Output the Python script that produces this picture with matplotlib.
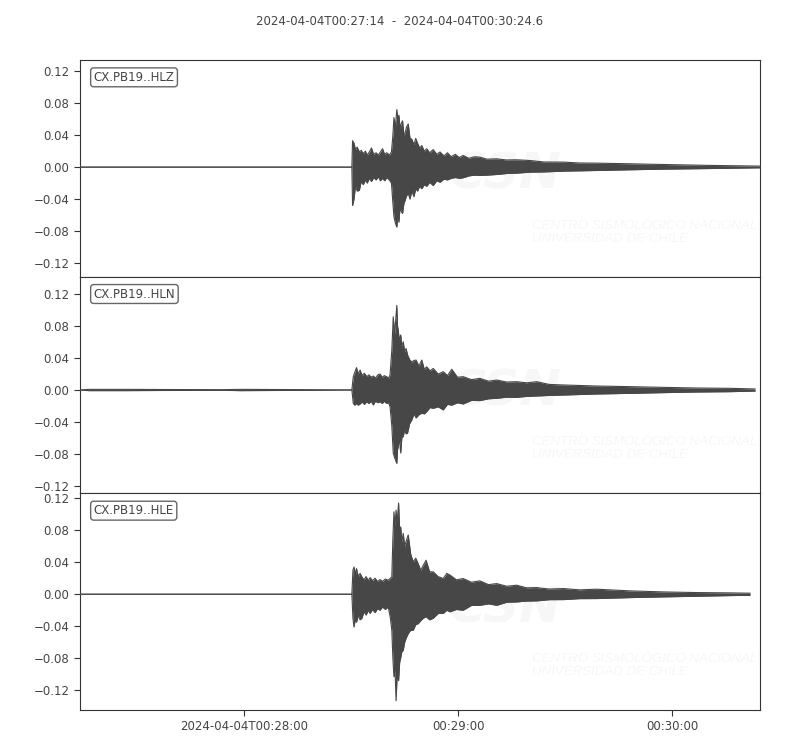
import datetime as dt

import matplotlib
matplotlib.use("Agg")
import matplotlib.pyplot as plt
import matplotlib.dates as mdates
from matplotlib.ticker import FuncFormatter, FixedLocator

# record window
t_start = dt.datetime(2024, 4, 4, 0, 27, 14, 0)
t_end = dt.datetime(2024, 4, 4, 0, 30, 24, 600000)
title_txt = "2024-04-04T00:27:14  -  2024-04-04T00:30:24.6"

channels = ["CX.PB19..HLZ", "CX.PB19..HLN", "CX.PB19..HLE"]

# amplitude envelopes (seconds after t_start, upper, lower)
hlz_t = [0.0, 76.2, 76.4, 76.8, 77.2, 77.7, 78.3, 78.8, 79.4, 80.0, 80.5, 81.1, 81.7,
         82.3, 83.0, 83.6, 84.2, 84.8, 85.4, 86.0, 86.7, 87.3, 87.7, 88.0, 88.4, 88.8,
         89.1, 89.4, 89.7, 90.0, 90.4, 90.8, 91.1, 91.5, 92.0, 92.5, 93.0, 93.6, 94.1,
         94.6, 95.2, 95.8, 96.5, 97.2, 98.0, 99.0, 100.0, 100.9, 102.0, 103.0, 104.0,
         105.2, 106.3, 107.4, 109.0, 110.5, 112.1, 114.0, 116.8, 119.5, 122.4, 126.1,
         130.0, 135.5, 140.0, 144.8, 154.2, 163.5, 177.5, 190.6]
hlz_up = [0.0, 0.0, 0.033, 0.030, 0.022, 0.025, 0.019, 0.021, 0.017, 0.020, 0.015,
          0.019, 0.024, 0.016, 0.018, 0.015, 0.019, 0.023, 0.016, 0.018, 0.015, 0.019,
          0.040, 0.062, 0.050, 0.072, 0.060, 0.065, 0.048, 0.054, 0.058, 0.040, 0.042,
          0.050, 0.054, 0.036, 0.035, 0.028, 0.036, 0.030, 0.024, 0.027, 0.020, 0.023,
          0.018, 0.022, 0.016, 0.019, 0.014, 0.018, 0.013, 0.016, 0.012, 0.0146, 0.011,
          0.013, 0.0125, 0.010, 0.0104, 0.009, 0.0092, 0.0083, 0.0065, 0.0063, 0.0052,
          0.005, 0.0042, 0.0033, 0.0021, 0.0013]
hlz_lo = [0.0, 0.0, -0.048, -0.040, -0.024, -0.030, -0.029, -0.018, -0.022, -0.016,
          -0.020, -0.014, -0.018, -0.013, -0.016, -0.012, -0.017, -0.014, -0.017,
          -0.013, -0.016, -0.020, -0.045, -0.062, -0.070, -0.075, -0.060, -0.069,
          -0.050, -0.055, -0.058, -0.045, -0.042, -0.036, -0.033, -0.040, -0.030,
          -0.037, -0.027, -0.030, -0.024, -0.027, -0.022, -0.024, -0.019, -0.023,
          -0.017, -0.019, -0.015, -0.016, -0.014, -0.013, -0.014, -0.0133, -0.011,
          -0.010, -0.0104, -0.010, -0.0092, -0.008, -0.0075, -0.0063, -0.006, -0.005,
          -0.0046, -0.0042, -0.0033, -0.0025, -0.0017, -0.0008]

hln_t = [0.0, 2.5, 12.0, 24.0, 40.0, 45.0, 65.0, 76.2, 76.6, 77.0, 77.5, 78.0, 78.5,
         79.1, 79.7, 80.4, 81.0, 81.6, 82.2, 82.8, 83.5, 84.1, 84.7, 85.3, 85.9, 86.5,
         86.9, 87.4, 87.8, 88.2, 88.8, 89.0, 89.2, 89.5, 89.9, 90.2, 90.6, 91.0, 91.4,
         91.8, 92.4, 93.0, 93.6, 94.2, 95.0, 95.8, 96.5, 97.2, 98.1, 99.0, 100.4, 101.8,
         103.0, 104.2, 105.8, 107.4, 109.7, 112.1, 114.5, 116.8, 119.6, 122.4, 125.2,
         128.0, 131.5, 135.5, 144.8, 154.2, 163.5, 172.8, 182.2, 189.2]
hln_up = [0.0, 0.0008, 0.0008, 0.0006, 0.0004, 0.0008, 0.0004, 0.0, 0.0167, 0.022,
          0.028, 0.020, 0.025, 0.018, 0.021, 0.0167, 0.019, 0.016, 0.0175, 0.015, 0.019,
          0.020, 0.016, 0.018, 0.0167, 0.015, 0.0188, 0.050, 0.0917, 0.070, 0.106, 0.080,
          0.075, 0.062, 0.069, 0.055, 0.0604, 0.048, 0.052, 0.044, 0.038, 0.035, 0.037,
          0.0375, 0.030, 0.0375, 0.026, 0.029, 0.024, 0.027, 0.020, 0.023, 0.018, 0.026,
          0.016, 0.0167, 0.013, 0.0146, 0.011, 0.0125, 0.010, 0.0104, 0.009, 0.0104,
          0.007, 0.0063, 0.005, 0.0042, 0.0033, 0.0025, 0.0021, 0.0013]
hln_lo = [0.0, -0.0008, -0.0008, -0.0006, -0.0004, -0.0008, -0.0004, 0.0, -0.0167,
          -0.019, -0.017, -0.019, -0.0175, -0.015, -0.018, -0.0146, -0.017, -0.014,
          -0.0188, -0.014, -0.016, -0.0146, -0.017, -0.014, -0.0167, -0.016, -0.0208,
          -0.045, -0.079, -0.085, -0.092, -0.075, -0.071, -0.060, -0.079, -0.060,
          -0.058, -0.050, -0.055, -0.054, -0.042, -0.0375, -0.030, -0.035, -0.031,
          -0.029, -0.030, -0.027, -0.022, -0.023, -0.021, -0.025, -0.018, -0.019,
          -0.016, -0.0175, -0.013, -0.0133, -0.011, -0.0104, -0.009, -0.0092, -0.008,
          -0.0075, -0.0068, -0.0063, -0.005, -0.0042, -0.0033, -0.0025, -0.0021,
          -0.0013]

hle_t = [0.0, 76.2, 76.5, 76.8, 77.2, 77.5, 78.0, 78.5, 79.0, 79.6, 80.2, 80.8, 81.3,
         82.0, 82.7, 83.4, 84.1, 84.8, 85.6, 86.4, 87.0, 87.4, 87.7, 88.0, 88.3, 88.6,
         88.9, 89.3, 89.6, 89.9, 90.2, 90.6, 91.0, 91.4, 92.0, 92.7, 93.4, 94.1, 94.8,
         95.5, 96.2, 97.0, 98.0, 99.0, 100.4, 101.8, 102.8, 103.7, 105.5, 107.4, 109.7,
         112.1, 114.5, 116.8, 119.6, 122.4, 125.2, 128.0, 131.5, 135.5, 140.0, 144.8,
         154.2, 163.5, 172.8, 182.2, 187.8]
hle_up = [0.0, 0.0, 0.030, 0.034, 0.025, 0.032, 0.022, 0.026, 0.0217, 0.018, 0.022,
          0.017, 0.0208, 0.017, 0.020, 0.016, 0.0183, 0.016, 0.019, 0.0175, 0.020,
          0.0217, 0.070, 0.103, 0.085, 0.105, 0.090, 0.114, 0.080, 0.084, 0.065, 0.076,
          0.060, 0.066, 0.074, 0.050, 0.0404, 0.045, 0.038, 0.030, 0.036, 0.0425, 0.028,
          0.028, 0.022, 0.0196, 0.026, 0.024, 0.018, 0.0196, 0.015, 0.0167, 0.012,
          0.0133, 0.010, 0.0113, 0.008, 0.0083, 0.0065, 0.0071, 0.0055, 0.0063, 0.0042,
          0.0029, 0.0021, 0.0017, 0.0013]
hle_lo = [0.0, 0.0, -0.030, -0.041, -0.030, -0.035, -0.026, -0.032, -0.030, -0.022,
          -0.026, -0.020, -0.024, -0.019, -0.023, -0.018, -0.020, -0.016, -0.019,
          -0.0158, -0.030, -0.045, -0.080, -0.103, -0.095, -0.133, -0.100, -0.108,
          -0.085, -0.079, -0.072, -0.070, -0.060, -0.055, -0.049, -0.045, -0.045,
          -0.038, -0.0367, -0.033, -0.030, -0.028, -0.032, -0.030, -0.024, -0.024,
          -0.020, -0.022, -0.019, -0.020, -0.014, -0.0138, -0.012, -0.0138, -0.010,
          -0.0096, -0.0085, -0.0083, -0.0068, -0.0067, -0.0055, -0.0054, -0.0042,
          -0.0033, -0.0025, -0.0017, -0.0013]

traces = [(hlz_t, hlz_up, hlz_lo), (hln_t, hln_up, hln_lo), (hle_t, hle_up, hle_lo)]
y_limits = [(-0.137, 0.134), (-0.1295, 0.142), (-0.1446, 0.126)]
y_ticks = [-0.12, -0.08, -0.04, 0.0, 0.04, 0.08, 0.12]

trace_col = "#474747"
text_col = "#444444"
spine_col = "#333333"
mark_col = "#f7f7f7"

fig, axes = plt.subplots(3, 1, sharex=True, figsize=(8, 7.5), dpi=100)
fig.subplots_adjust(left=0.1, right=0.95, top=0.92, bottom=0.0533, hspace=0)

for ax, name, (tt, up, lo), ylim in zip(axes, channels, traces, y_limits):
    times = [t_start + dt.timedelta(seconds=s) for s in tt]
    ax.fill_between(times, lo, up, color=trace_col, linewidth=0, zorder=3)
    ax.plot(times, up, color=trace_col, linewidth=0.8, zorder=3)
    ax.plot(times, lo, color=trace_col, linewidth=0.8, zorder=3)

    # faint agency watermark
    ax.text(0.625, 0.47, "CSN", transform=ax.transAxes, fontsize=36, fontweight="bold",
            style="italic", color=mark_col, ha="center", va="center", zorder=1,
            clip_on=True)
    ax.text(0.665, 0.205, "CENTRO SISMOLÓGICO NACIONAL\nUNIVERSIDAD DE CHILE",
            transform=ax.transAxes, fontsize=9.5, style="italic", color=mark_col,
            family="Liberation Sans", ha="left", va="center", linespacing=1.1,
            zorder=1, clip_on=True)

    ax.text(0.02, 0.92, name, transform=ax.transAxes, fontsize=8.5, color=text_col,
            ha="left", va="center",
            bbox=dict(boxstyle="round,pad=0.25", fc="white", ec="#666666", lw=1.0),
            zorder=5)

    ax.set_ylim(*ylim)
    ax.yaxis.set_major_locator(FixedLocator(y_ticks))
    ax.yaxis.set_major_formatter(FuncFormatter(lambda v, p: f"{v:.2f}".replace("-", "\u2212")))
    ax.tick_params(colors=spine_col, labelcolor=text_col, labelsize=8.5, length=4)
    for sp in ax.spines.values():
        sp.set_color(spine_col)

axes[-1].set_xlim(t_start, t_end)
tick_times = [dt.datetime(2024, 4, 4, 0, 28), dt.datetime(2024, 4, 4, 0, 29),
              dt.datetime(2024, 4, 4, 0, 30)]
axes[-1].xaxis.set_major_locator(FixedLocator([mdates.date2num(t) for t in tick_times]))


def fmt_time(v, pos):
    d = mdates.num2date(v)
    if pos == 0:
        return d.strftime("%Y-%m-%dT%H:%M:%S")
    return d.strftime("%H:%M:%S")


axes[-1].xaxis.set_major_formatter(FuncFormatter(fmt_time))

fig.suptitle(title_txt, fontsize=8.5, color=text_col, y=0.98)

plt.savefig("out.png", dpi=100)
